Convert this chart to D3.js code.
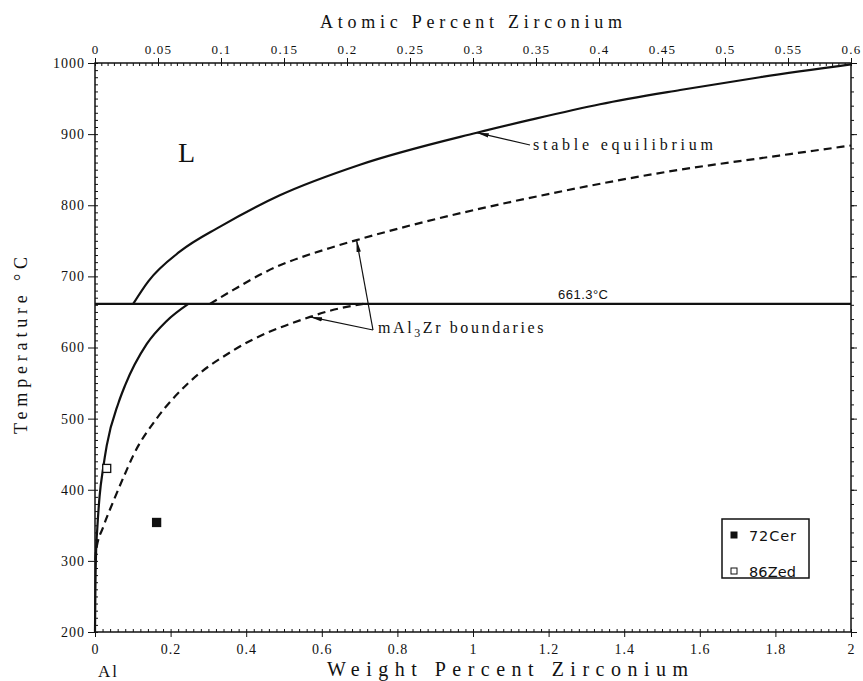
<!DOCTYPE html>
<html>
<head>
<meta charset="utf-8">
<script src="https://cdn.jsdelivr.net/npm/d3@7"></script>
<style>
body { margin: 0; background: #fff; }
text { fill: #111; }
</style>
</head>
<body>
<script>
// Tick values
var wtTicks   = [0, 0.2, 0.4, 0.6, 0.8, 1, 1.2, 1.4, 1.6, 1.8, 2];
var atTicks   = [0, 0.05, 0.1, 0.15, 0.2, 0.25, 0.3, 0.35, 0.4, 0.45, 0.5, 0.55, 0.6];
var tempTicks = [200, 300, 400, 500, 600, 700, 800, 900, 1000];

// Stable equilibrium liquidus (above 661.3)
var stableWt = [0.101, 0.141, 0.225, 0.331, 0.489, 0.701, 1.010, 1.151, 1.336, 1.548, 1.759, 2.0];
var stableT  = [661.3, 693,   735,   770,   814,   857,   902,   920,   942,   962,   980,   998];

// Stable solvus (below 661.3)
var solvusWt = [0,   0.001, 0.003, 0.006, 0.012, 0.022, 0.031, 0.062, 0.079, 0.137, 0.189, 0.247];
var solvusT  = [200, 259,   315,   345,   390,   432,   462,   522,   546,   605,   637,   661.3];

// Metastable mAl3Zr boundaries (dashed)
var metaUpperWt = [0.304, 0.366, 0.454, 0.622, 0.692, 1.248, 1.548, 1.759, 2.0];
var metaUpperT  = [661.3, 681,   707,   740,   751,   821,   850,   866,   884];
var metaLowerWt = [0.001, 0.003, 0.022, 0.048, 0.084, 0.101, 0.163, 0.243, 0.366, 0.569, 0.624, 0.710];
var metaLowerT  = [301,   315,   348,   383,   428,   448,   500,   548,   596,   643,   652,   661.3];

var eutecticT = 661.3;

// Experimental points
var pointNames = ["72Cer", "86Zed"];
var pointWt    = [0.163, 0.031];
var pointT     = [354, 430];
var pointFill  = ["#111", "#fff"];

var W = 863, H = 681;
var mLeft = 95, mRight = 851, mTop = 63, mBottom = 632;

var x  = d3.scaleLinear().domain([0, 2]).range([mLeft, mRight]);
var xa = d3.scaleLinear().domain([0, 0.6]).range([mLeft, mRight]);
var y  = d3.scaleLinear().domain([200, 1000]).range([mBottom, mTop]);

var svg = d3.select("body").append("svg")
    .attr("width", W).attr("height", H);

var defs = svg.append("defs");
defs.append("marker").attr("id", "arrow")
    .attr("viewBox", "0 0 12 6").attr("refX", 12).attr("refY", 3)
    .attr("markerWidth", 12).attr("markerHeight", 6)
    .attr("markerUnits", "userSpaceOnUse")
    .attr("orient", "auto")
  .append("path").attr("d", "M0,0.8 L12,3 L0,5.2 Z").attr("fill", "#111");

var serif = "'Liberation Serif', 'Times New Roman', serif";
var sans  = "'Liberation Sans', Arial, sans-serif";

function range(a, b, step) {
    var out = [];
    for (var i = 0; a + i * step <= b + 1e-9; i++) out.push(+(a + i * step).toFixed(4));
    return out;
}
function fmt(v) { return String(+v.toFixed(3)); }

function styleAxis(g, size, ls) {
    g.select(".domain").remove();
    g.selectAll("line").attr("stroke", "#111").attr("stroke-width", 1);
    g.selectAll("text").attr("font-family", serif).attr("font-size", size)
        .attr("letter-spacing", ls).attr("fill", "#111");
}

// minor ticks
svg.append("g").attr("transform", "translate(0," + mBottom + ")")
    .call(d3.axisBottom(x).tickValues(range(0, 2, 0.02)).tickSize(-3).tickFormat(""))
    .call(function(g) { styleAxis(g, 0, 0); });
svg.append("g").attr("transform", "translate(0," + mTop + ")")
    .call(d3.axisTop(xa).tickValues(range(0, 0.6, 0.005)).tickSize(-3).tickFormat(""))
    .call(function(g) { styleAxis(g, 0, 0); });
svg.append("g").attr("transform", "translate(" + mLeft + ",0)")
    .call(d3.axisLeft(y).tickValues(range(200, 1000, 10)).tickSize(-3).tickFormat(""))
    .call(function(g) { styleAxis(g, 0, 0); });
svg.append("g").attr("transform", "translate(" + mRight + ",0)")
    .call(d3.axisRight(y).tickValues(range(200, 1000, 20)).tickSize(3).tickFormat(""))
    .call(function(g) { styleAxis(g, 0, 0); });
svg.append("g").attr("transform", "translate(" + mRight + ",0)")
    .call(d3.axisRight(y).tickValues(tempTicks).tickSize(6).tickFormat(""))
    .call(function(g) { styleAxis(g, 0, 0); });

// major ticks + labels
svg.append("g").attr("transform", "translate(0," + mBottom + ")")
    .call(d3.axisBottom(x).tickValues(wtTicks).tickSize(5).tickPadding(7).tickFormat(fmt))
    .call(function(g) { styleAxis(g, 14, 1); });
svg.append("g").attr("transform", "translate(0," + mTop + ")")
    .call(d3.axisTop(xa).tickValues(atTicks).tickSize(5).tickPadding(4).tickFormat(fmt))
    .call(function(g) { styleAxis(g, 13, 1.2); });
svg.append("g").attr("transform", "translate(" + mLeft + ",0)")
    .call(d3.axisLeft(y).tickValues(tempTicks).tickSize(7).tickPadding(3).tickFormat(fmt))
    .call(function(g) { styleAxis(g, 14, 1); });

// frame
svg.append("rect").attr("x", mLeft).attr("y", mTop)
    .attr("width", mRight - mLeft).attr("height", mBottom - mTop)
    .attr("fill", "none").attr("stroke", "#111").attr("stroke-width", 1.5);

// curves
var line = d3.line()
    .x(function(d) { return x(d[0]); })
    .y(function(d) { return y(d[1]); })
    .curve(d3.curveMonotoneX);

function pairs(a, b) { return a.map(function(v, i) { return [v, b[i]]; }); }

var curves = [
    { data: pairs(stableWt, stableT), dash: null },
    { data: pairs(solvusWt, solvusT), dash: null },
    { data: pairs(metaUpperWt, metaUpperT), dash: "8,5" },
    { data: pairs(metaLowerWt, metaLowerT), dash: "8,5" }
];
svg.append("g").selectAll("path").data(curves).join("path")
    .attr("d", function(d) { return line(d.data); })
    .attr("fill", "none").attr("stroke", "#111").attr("stroke-width", 2.2)
    .attr("stroke-dasharray", function(d) { return d.dash; });

// eutectic line
svg.append("line")
    .attr("x1", x(0)).attr("x2", x(2))
    .attr("y1", y(eutecticT)).attr("y2", y(eutecticT))
    .attr("stroke", "#111").attr("stroke-width", 2.2);
svg.append("text").attr("x", 558).attr("y", y(eutecticT) - 5)
    .attr("font-family", sans).attr("font-size", 13).attr("textLength", 50)
    .text(eutecticT + "°C");

// data points
svg.append("g").selectAll("rect").data(pointWt).join("rect")
    .attr("x", function(d) { return x(d) - 4; })
    .attr("y", function(d, i) { return y(pointT[i]) - 4; })
    .attr("width", 8).attr("height", 8)
    .attr("fill", function(d, i) { return pointFill[i]; })
    .attr("stroke", "#111").attr("stroke-width", 1.3);

// legend
var lg = svg.append("g");
lg.append("rect").attr("x", 722).attr("y", 519).attr("width", 87).attr("height", 59)
    .attr("fill", "#fff").attr("stroke", "#111").attr("stroke-width", 1.5);
pointNames.forEach(function(name, i) {
    var cy = 535 + i * 36;
    lg.append("rect").attr("x", 731).attr("y", cy - 3).attr("width", 6).attr("height", 6)
        .attr("fill", pointFill[i]).attr("stroke", "#111").attr("stroke-width", 1);
    lg.append("text").attr("x", 749).attr("y", cy + 5.5)
        .attr("font-family", "'DejaVu Sans', sans-serif").attr("font-size", 14.5)
        .attr("textLength", 47).text(name);
});

// annotations
svg.append("text").attr("x", 178).attr("y", 162)
    .attr("font-family", serif).attr("font-size", 28).text("L");

svg.append("line").attr("x1", 530).attr("y1", 145).attr("x2", x(1.010)).attr("y2", y(902))
    .attr("stroke", "#111").attr("stroke-width", 1.2).attr("marker-end", "url(#arrow)");
svg.append("text").attr("x", 533).attr("y", 150)
    .attr("font-family", serif).attr("font-size", 16).attr("textLength", 180)
    .text("stable equilibrium");

svg.append("line").attr("x1", 373).attr("y1", 330).attr("x2", x(0.692)).attr("y2", y(751))
    .attr("stroke", "#111").attr("stroke-width", 1.2).attr("marker-end", "url(#arrow)");
svg.append("line").attr("x1", 373).attr("y1", 330).attr("x2", x(0.569)).attr("y2", y(643))
    .attr("stroke", "#111").attr("stroke-width", 1.2).attr("marker-end", "url(#arrow)");
var mt = svg.append("text").attr("x", 378).attr("y", 333)
    .attr("font-family", serif).attr("font-size", 16).attr("letter-spacing", 2.6);
mt.append("tspan").text("mAl");
mt.append("tspan").attr("dy", 4).attr("font-size", 12).text("3");
mt.append("tspan").attr("dy", -4).text("Zr boundaries");

// axis titles
svg.append("text").attr("x", 320).attr("y", 28)
    .attr("font-family", serif).attr("font-size", 18).attr("textLength", 302)
    .text("Atomic Percent Zirconium");
svg.append("text").attr("x", 327).attr("y", 676)
    .attr("font-family", serif).attr("font-size", 20).attr("textLength", 361)
    .text("Weight Percent Zirconium");
svg.append("text").attr("transform", "translate(27,434) rotate(-90)")
    .attr("font-family", serif).attr("font-size", 18).attr("textLength", 177)
    .text("Temperature °C");
svg.append("text").attr("x", 98).attr("y", 677)
    .attr("font-family", serif).attr("font-size", 17).attr("letter-spacing", 2)
    .text("Al");
</script>
</body>
</html>
